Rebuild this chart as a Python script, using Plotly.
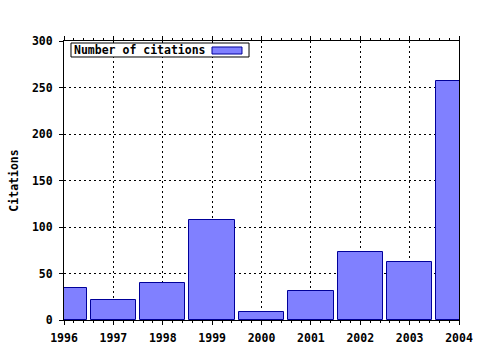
import plotly.graph_objects as go

years = [1996, 1997, 1998, 1999, 2000, 2001, 2002, 2003, 2004]
citations = [34, 21, 40, 107, 9, 31, 73, 62, 257]
series_name = "Number of citations"
y_title = "Citations"

FONT = "DejaVu Sans Mono"
FS = 11.5
fill = "#8080FF"
edge = "#000099"

fig = go.Figure()
fig.add_trace(go.Bar(
    x=years, y=citations, name=series_name, width=0.92,
    marker=dict(color=fill, line=dict(color=edge, width=1)),
    showlegend=False,
))

axis_common = dict(
    showline=True, linecolor="black", linewidth=1,
    showgrid=True, gridcolor="black", gridwidth=1, griddash="2px,3px",
    zeroline=False, automargin=False,
    tickfont=dict(family=FONT, size=FS, color="black", weight="bold"),
    ticks="outside", tickcolor="black", ticklen=4, tickwidth=1,
)

fig.update_layout(
    width=480, height=350,
    margin=dict(l=64, r=21, t=41, b=30),
    paper_bgcolor="white", plot_bgcolor="white",
    bargap=0,
    xaxis=dict(
        **axis_common,
        range=[1996, 2004], tickmode="array", tickvals=years,
        ticktext=[str(y) for y in years],
        mirror="ticks", ticklabelstandoff=3,
        minor=dict(dtick=0.2, ticks="outside", ticklen=2, tickcolor="black", showgrid=False),
    ),
    yaxis=dict(
        **axis_common,
        range=[0, 300], dtick=50, mirror=True,
        ticklabelstandoff=4,
        title=dict(text=y_title, font=dict(family=FONT, size=FS, color="black", weight="bold"), standoff=10),
    ),
)

# legend box (text with swatch on the right, as in the reference)
fig.add_shape(
    type="rect", xref="paper", yref="paper",
    x0=0.0177, x1=0.4684, y0=0.9427, y1=0.9928,
    fillcolor="white", line=dict(color="black", width=1), layer="above",
)
fig.add_shape(
    type="rect", xref="paper", yref="paper",
    x0=0.3747, x1=0.4506, y0=0.9534, y1=0.9785,
    fillcolor=fill, line=dict(color=edge, width=1), layer="above",
)
fig.add_annotation(
    xref="paper", yref="paper", x=0.0228, y=0.9677, xanchor="left", yanchor="middle",
    text=series_name, showarrow=False, align="left", borderpad=0,
    font=dict(family=FONT, size=FS, color="black", weight="bold"),
)

fig.write_html("out.html")
